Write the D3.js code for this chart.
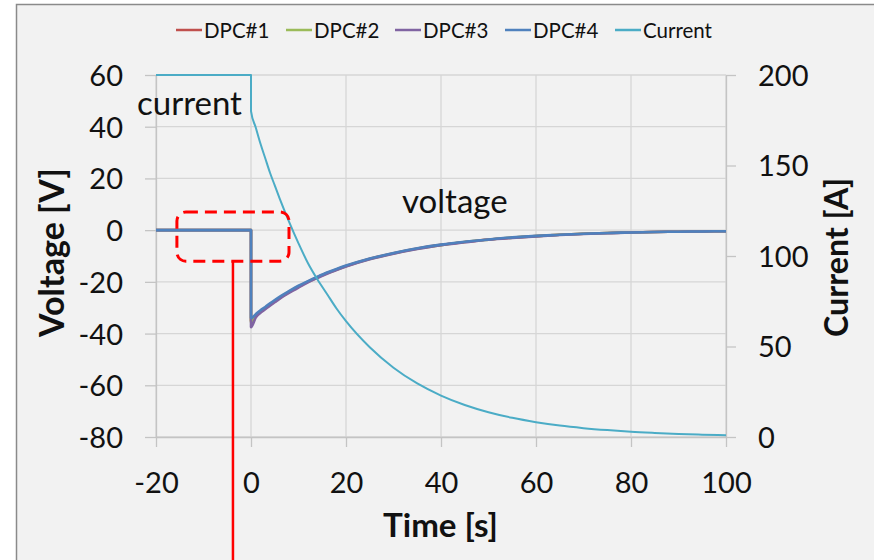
<!DOCTYPE html>
<html><head><meta charset="utf-8">
<script src="https://cdn.jsdelivr.net/npm/d3@7"></script>
<style>
html,body{margin:0;padding:0;background:#fff;}
svg{display:block;}
text{font-family:Lato,"Open Sans",sans-serif;fill:#111;}
</style></head>
<body>
<svg id="chart" width="874" height="560"></svg>
<script>
// ---- data ----
const seriesNames = ["DPC#1","DPC#2","DPC#3","DPC#4","Current"];
const time    = [-20, 0, 0, 1, 2, 3, 4, 5, 6, 8, 10, 12, 14, 16, 18, 20, 25, 30, 35, 40, 45, 50, 55, 60, 65, 70, 75, 80, 85, 90, 95, 100];
const dpc1    = [0, 0, -35, -33, -31.5, -30.1, -28.7, -27.4, -26.2, -23.9, -21.8, -19.9, -18.2, -16.6, -15.2, -13.9, -11.1, -8.9, -7.1, -5.7, -4.6, -3.6, -2.9, -2.3, -1.8, -1.4, -1.1, -0.9, -0.7, -0.6, -0.5, -0.4];
const dpc2    = [0, 0, -35.5, -33.2, -31.6, -30.2, -28.8, -27.5, -26.3, -24.0, -21.9, -20.0, -18.3, -16.7, -15.3, -14.0, -11.2, -9.0, -7.2, -5.8, -4.6, -3.7, -2.9, -2.3, -1.8, -1.4, -1.1, -0.9, -0.7, -0.6, -0.5, -0.4];
const dpc3    = [0, 0, -37.5, -33.8, -32.0, -30.6, -29.2, -27.9, -26.6, -24.3, -22.2, -20.2, -18.5, -16.9, -15.4, -14.1, -11.3, -9.1, -7.3, -5.8, -4.7, -3.7, -3.0, -2.4, -1.9, -1.5, -1.2, -0.9, -0.7, -0.6, -0.5, -0.4];
const dpc4    = [0, 0, -34, -32.5, -31, -29.7, -28.3, -27, -25.8, -23.6, -21.5, -19.7, -18, -16.4, -15, -13.7, -11, -8.8, -7, -5.6, -4.5, -3.6, -2.8, -2.2, -1.8, -1.4, -1.1, -0.9, -0.7, -0.6, -0.5, -0.4];
const current = [200, 200, 180, 171, 162, 154, 146, 139, 132, 119, 107, 96, 87, 79, 71, 64, 49.6, 38.3, 29.6, 22.9, 17.7, 13.7, 10.6, 8.2, 6.3, 4.9, 3.8, 2.9, 2.25, 1.7, 1.3, 1];
const xTicks = [-20, 0, 20, 40, 60, 80, 100];
const yLeftTicks = [60, 40, 20, 0, -20, -40, -60, -80];
const yRightTicks = [200, 150, 100, 50, 0];
const colors = ["#C0504D", "#9BBB59", "#8064A2", "#4F81BD", "#4BACC6"];
// annotations in data units
const annotBox = {t0: -15.6, t1: 8.0, v0: 7.0, v1: -12.0};
const annotLineT = -3.8;
const annotTexts = [{label: "current", t: -24, v: 44.5}, {label: "voltage", t: 31.8, v: 6.6}];

// ---- layout ----
const svg = d3.select("#chart");
const x = d3.scaleLinear().domain([-20, 100]).range([156, 726]);
const yL = d3.scaleLinear().domain([-80, 60]).range([437, 75]);
const yR = d3.scaleLinear().domain([0, 200]).range([437, 75]);
const fmt = d => String(d);

// background panel with border
svg.append("rect").attr("x", 16.5).attr("y", 4.5).attr("width", 900).attr("height", 600)
  .attr("fill", "#f2f2f2").attr("stroke", "#8a8a8a").attr("stroke-width", 1.5);

const gridColor = "#d6d6d6";
// gridlines
svg.append("g").selectAll("line").data(yLeftTicks).join("line")
  .attr("x1", x(-20)).attr("x2", x(100)).attr("y1", d => yL(d)).attr("y2", d => yL(d))
  .attr("stroke", gridColor).attr("stroke-width", 1.3);
svg.append("g").selectAll("line").data(xTicks).join("line")
  .attr("x1", d => x(d)).attr("x2", d => x(d)).attr("y1", yL(60)).attr("y2", yL(-80))
  .attr("stroke", gridColor).attr("stroke-width", 1.3);

function styleAxis(g) {
  g.selectAll(".domain").attr("stroke", "#c4c4c4").attr("stroke-width", 1.3);
  g.selectAll(".tick line").attr("stroke", "#c4c4c4").attr("stroke-width", 1.3);
  g.selectAll(".tick text").attr("font-family", "Lato").attr("font-size", 29).attr("fill", "#111");
}
const gL = svg.append("g").attr("transform", `translate(${x(-20)},0)`)
  .call(d3.axisLeft(yL).tickValues(yLeftTicks).tickFormat(fmt).tickSize(11).tickSizeOuter(0).tickPadding(22));
styleAxis(gL);
const gB = svg.append("g").attr("transform", `translate(0,${yL(-80)})`)
  .call(d3.axisBottom(x).tickValues(xTicks).tickFormat(fmt).tickSize(10).tickSizeOuter(0).tickPadding(25));
styleAxis(gB);
const gR = svg.append("g").attr("transform", `translate(${x(100)},0)`)
  .call(d3.axisRight(yR).tickValues(yRightTicks).tickFormat(fmt).tickSize(10).tickSizeOuter(0).tickPadding(22));
styleAxis(gR);
gL.selectAll(".tick text").attr("dy", "0.36em");
gR.selectAll(".tick text").attr("dy", "0.36em");

// series
const lineV = d3.line().x((d, i) => x(time[i])).y(d => yL(d)).curve(d3.curveMonotoneX);
const lineI = d3.line().x((d, i) => x(time[i])).y(d => yR(d)).curve(d3.curveMonotoneX);
[dpc1, dpc2, dpc3, dpc4].forEach((s, k) => {
  svg.append("path").attr("d", lineV(s)).attr("fill", "none")
    .attr("stroke", colors[k]).attr("stroke-width", 2.6).attr("stroke-linejoin", "round");
});
svg.append("path").attr("d", lineI(current)).attr("fill", "none")
  .attr("stroke", colors[4]).attr("stroke-width", 2).attr("stroke-linejoin", "round");

// axis titles
function fit(sel, target) {
  const w = sel.node().getComputedTextLength();
  const fs = parseFloat(sel.attr("font-size"));
  sel.attr("font-size", fs * target / w);
}
const tT = svg.append("text").attr("x", 440.5).attr("y", 537).attr("text-anchor", "middle")
  .attr("font-weight", 700).attr("font-size", 30).text("Time [s]");
fit(tT, 115);
const tV = svg.append("text").attr("transform", "translate(64,252.5) rotate(-90)").attr("text-anchor", "middle")
  .attr("font-weight", 700).attr("font-size", 30).text("Voltage [V]");
fit(tV, 169);
const tC = svg.append("text").attr("transform", "translate(848,257.5) rotate(-90)").attr("text-anchor", "middle")
  .attr("font-weight", 700).attr("font-size", 30).text("Current [A]");
fit(tC, 159);

// legend
const legX = [176, 286, 395, 505, 615];
const leg = svg.append("g");
seriesNames.forEach((n, i) => {
  leg.append("line").attr("x1", legX[i]).attr("x2", legX[i] + 26).attr("y1", 30).attr("y2", 30)
    .attr("stroke", colors[i]).attr("stroke-width", 2.5);
  leg.append("text").attr("x", legX[i] + 28).attr("y", 37.5).attr("font-size", 20.5).text(n);
});

// annotations
annotTexts.forEach(a => {
  svg.append("text").attr("x", x(a.t)).attr("y", yL(a.v))
    .attr("font-family", "'Liberation Sans', Arial, sans-serif").attr("font-size", 33).text(a.label);
});
svg.append("rect")
  .attr("x", x(annotBox.t0)).attr("y", yL(annotBox.v0))
  .attr("width", x(annotBox.t1) - x(annotBox.t0)).attr("height", yL(annotBox.v1) - yL(annotBox.v0))
  .attr("rx", 9).attr("fill", "none").attr("stroke", "#ff0000").attr("stroke-width", 3)
  .attr("stroke-dasharray", "12,7");
svg.append("line").attr("x1", x(annotLineT)).attr("x2", x(annotLineT))
  .attr("y1", yL(annotBox.v1)).attr("y2", 560)
  .attr("stroke", "#ff0000").attr("stroke-width", 2.5);
</script>
</body></html>
